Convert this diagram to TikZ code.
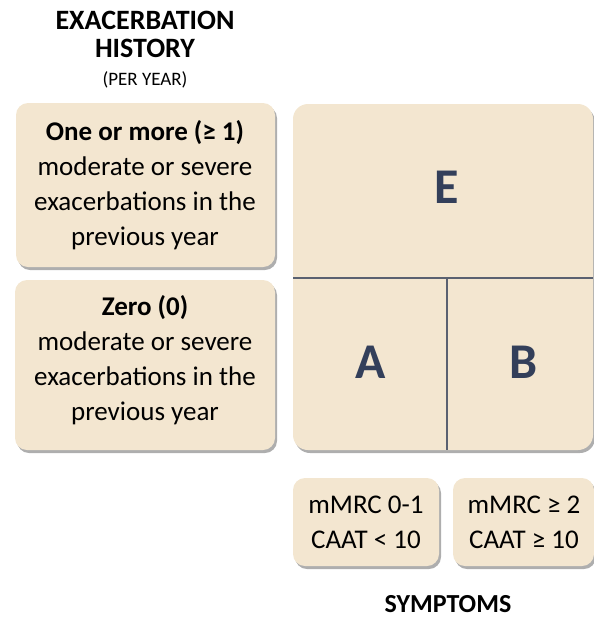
\documentclass[tikz,border=0pt]{standalone}
\usepackage{fontspec}
\setmainfont{Carlito}
\usetikzlibrary{shadows}
\definecolor{boxfill}{HTML}{F3E6D0}
\definecolor{letter}{HTML}{333F5A}
\definecolor{divline}{HTML}{5A6170}
\tikzset{
  panel/.style={fill=boxfill, rounded corners=12pt,
    drop shadow={shadow xshift=2pt, shadow yshift=-3pt, opacity=0.45, fill=black!70}},
  bodytext/.style={align=center, font=\fontsize{27}{35}\selectfont, text=black},
  bigletter/.style={font=\fontsize{50}{50}\selectfont\bfseries, text=letter},
  heading/.style={align=center, font=\fontsize{28}{28}\selectfont\bfseries, text=black}
}
\begin{document}
\begin{tikzpicture}[x=1pt,y=-1pt]
\useasboundingbox (0,0) rectangle (594,619);
% titles
\node[heading] (title) at (145,34) {EXACERBATION\\HISTORY};
\node[font=\fontsize{19}{22}\selectfont, text=black] (peryear) at (145,80) {(PER YEAR)};
% left boxes
\path[panel] (16,103) rectangle (275,267);
\node[bodytext] (one) at (145,185) {\textbf{One or more (≥ 1)}\\moderate or severe\\exacerbations in the\\previous year};
\path[panel] (15,280) rectangle (275,450);
\node[bodytext] (zero) at (145,360) {\textbf{Zero (0)}\\moderate or severe\\exacerbations in the\\previous year};
% big grid
\path[panel, rounded corners=15pt] (293,104) rectangle (593,450);
\coordinate (hl) at (293,278);
\coordinate (hr) at (593,278);
\coordinate (vt) at (447,278);
\coordinate (vb) at (447,450);
\draw[divline, line width=1.4pt] (hl) -- (hr);
\draw[divline, line width=1.4pt] (vt) -- (vb);
\node[bigletter] (E) at (447,187) {E};
\node[bigletter] (A) at (371,362) {A};
\node[bigletter] (B) at (524,362) {B};
% symptom boxes
\path[panel] (293,478) rectangle (439,566);
\node[bodytext] (s1) at (366,522) {mMRC 0-1\\CAAT < 10};
\path[panel] (453,478) rectangle (594,566);
\node[bodytext] (s2) at (524,522) {mMRC ≥ 2\\CAAT ≥ 10};
\node[font=\fontsize{26}{26}\selectfont\bfseries, text=black] (symp) at (448,604) {SYMPTOMS};
\end{tikzpicture}
\end{document}
